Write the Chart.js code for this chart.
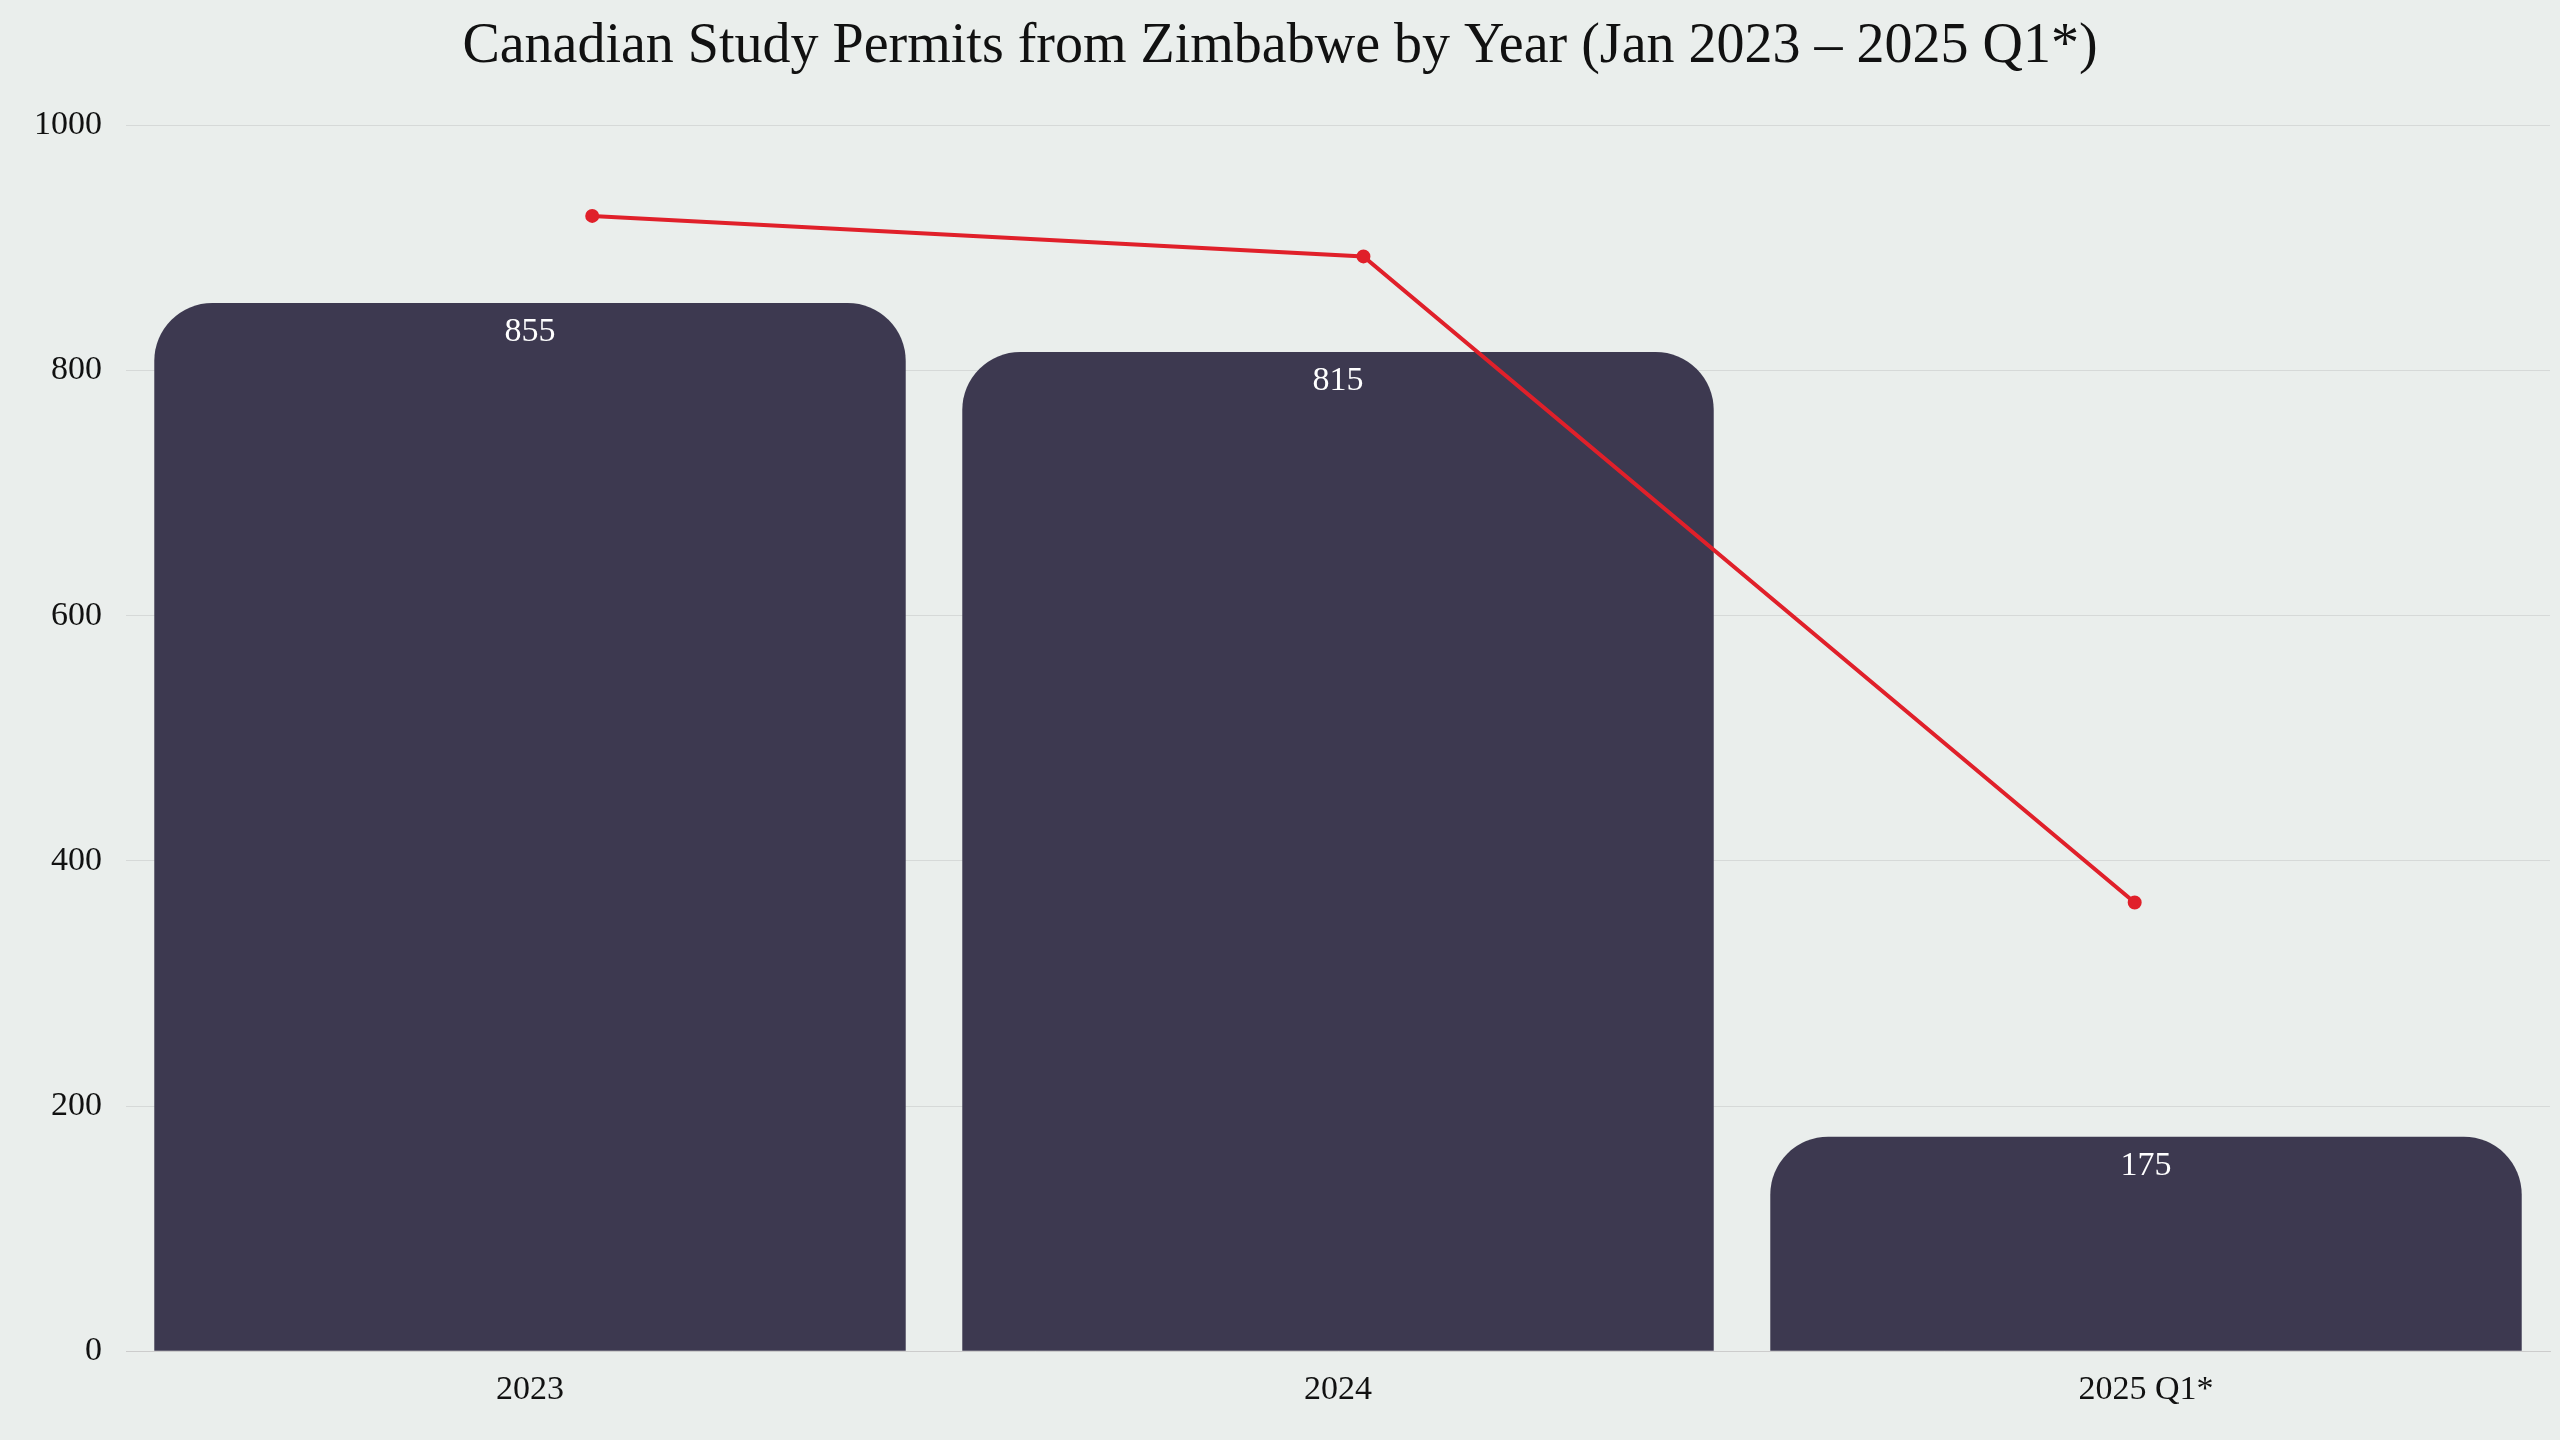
<!DOCTYPE html>
<html>
<head>
<meta charset="utf-8">
<script src="https://cdn.jsdelivr.net/npm/chart.js@4"></script>
<style>
  html, body { margin: 0; padding: 0; background: #eaeeec; }
  #wrap { width: 2560px; height: 1440px; }
</style>
</head>
<body>
<div id="wrap"><canvas id="chart"></canvas></div>
<script>
const years = ["2023", "2024", "2025 Q1*"];
const permits = [855, 815, 175];
const trend = [926, 893, 366];
const trendX = [0, 1, 2];

const FONT = "'Liberation Serif', 'DejaVu Serif', serif";

// white value labels just inside the top of each bar
const barLabels = {
  id: "barLabels",
  afterDatasetsDraw(chart) {
    const ctx = chart.ctx;
    const meta = chart.getDatasetMeta(1);
    ctx.save();
    ctx.fillStyle = "#ffffff";
    ctx.font = "34px " + FONT;
    ctx.textAlign = "center";
    ctx.textBaseline = "top";
    meta.data.forEach((bar, i) => {
      ctx.fillText(permits[i], bar.x, bar.y + 12);
    });
    ctx.restore();
  },
};

new Chart(document.querySelector("#chart"), {
  type: "bar",
  data: {
    labels: years,
    datasets: [
      {
        type: "line",
        data: trendX.map((x, i) => ({ x: x, y: trend[i] })),
        xAxisID: "x2",
        borderColor: "#e0202a",
        backgroundColor: "#e0202a",
        borderWidth: 4,
        pointRadius: 5,
        tension: 0,
        order: 0,
      },
      {
        type: "bar",
        data: permits,
        backgroundColor: "#3d3950",
        borderRadius: { topLeft: 58, topRight: 58 },
        borderSkipped: "bottom",
        categoryPercentage: 1,
        barPercentage: 0.93,
        grouped: false,
        order: 1,
      },
    ],
  },
  options: {
    responsive: true,
    maintainAspectRatio: false,
    devicePixelRatio: 1,
    animation: false,
    layout: { padding: { left: 10, right: 10, top: 0, bottom: 20 } },
    plugins: {
      legend: { display: false },
      tooltip: { enabled: false },
      title: {
        display: true,
        text: "Canadian Study Permits from Zimbabwe by Year (Jan 2023 \u2013 2025 Q1*)",
        color: "#111111",
        font: { family: FONT, size: 56, weight: "normal" },
        padding: { top: 14, bottom: 44 },
      },
    },
    scales: {
      x: {
        grid: { display: false },
        border: { color: "#cccccc" },
        ticks: { color: "#111111", font: { family: FONT, size: 34 }, padding: 10 },
      },
      x2: {
        type: "linear",
        display: false,
        min: -0.38,
        max: 2.314,
      },
      y: {
        min: 0,
        max: 1000,
        ticks: {
          stepSize: 200,
          color: "#111111",
          font: { family: FONT, size: 34 },
          padding: 24,
          callback: (v) => String(v),
        },
        grid: { color: "#d6d9d8", drawTicks: false },
        border: { display: false },
      },
    },
  },
  plugins: [barLabels],
});
</script>
</body>
</html>
